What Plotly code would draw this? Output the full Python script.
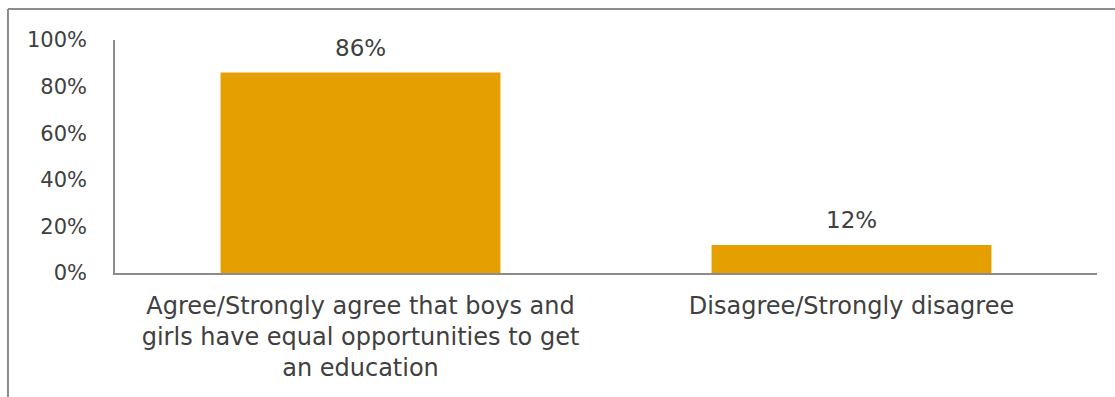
import plotly.graph_objects as go

categories = ["Agree/Strongly agree that boys and<br>girls have equal opportunities to get<br>an education",
              "Disagree/Strongly disagree"]
values = [0.86, 0.12]
labels = ["86%", "12%"]
tick_vals = [0, 0.2, 0.4, 0.6, 0.8, 1.0]
tick_text = ["0%", "20%", "40%", "60%", "80%", "100%"]

FONT = "DejaVu Sans"
fig = go.Figure()
fig.add_trace(go.Bar(x=categories, y=values, marker=dict(color="#E69F00", line=dict(width=0)),
                     width=0.57))
for c, v, t in zip(categories, values, labels):
    fig.add_annotation(x=c, y=v, text=t, showarrow=False, yanchor="bottom", yshift=10,
                       font=dict(family=FONT, size=23, color="#404040"))
fig.update_layout(
    width=1115, height=397,
    margin=dict(l=115, r=18, t=40, b=124),
    plot_bgcolor="white", paper_bgcolor="white",
    showlegend=False,
    font=dict(family=FONT, color="#404040"),
)
fig.update_yaxes(range=[0, 1], tickvals=tick_vals, ticktext=tick_text, showgrid=False,
                 showline=True, linecolor="#8c8c8c", linewidth=1.5, ticks="",
                 tickfont=dict(family=FONT, size=21, color="#404040"), ticklabelstandoff=22)
fig.update_xaxes(showline=True, linecolor="#8c8c8c", linewidth=1.5, ticks="",
                 tickfont=dict(family=FONT, size=24, color="#404040"), ticklabelstandoff=10)
# frame lines
fig.add_shape(type="line", xref="paper", yref="paper", x0=-0.109, x1=1.02, y0=1.133, y1=1.133,
              line=dict(color="#8c8c8c", width=2))
fig.add_shape(type="line", xref="paper", yref="paper", x0=-0.109, x1=-0.109, y0=1.133, y1=-0.6,
              line=dict(color="#8c8c8c", width=2))
fig.write_html("out.html")
